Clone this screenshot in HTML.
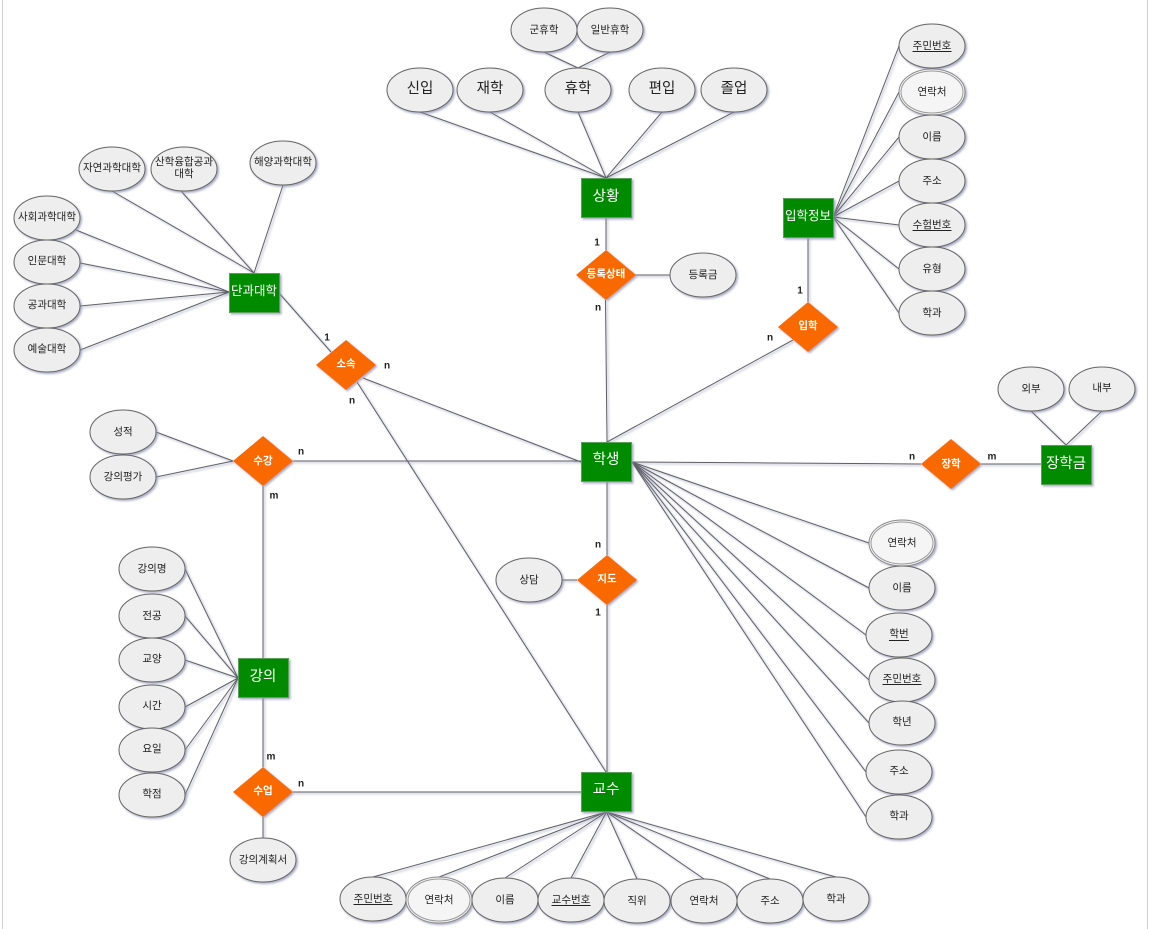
<!DOCTYPE html>
<html lang="ko">
<head>
<meta charset="utf-8">
<style>
html,body{margin:0;padding:0;background:#fff;width:1149px;height:929px;overflow:hidden}
svg{display:block}
text{font-family:"Liberation Sans","Noto Sans CJK KR",sans-serif;text-anchor:middle;dominant-baseline:central;fill:#222}
.l line{stroke:#5f5f66;stroke-width:1}
.e ellipse{fill:#eeeeee;stroke:#666;stroke-width:1}
.r rect{fill:#008a00;stroke:#5c9f5c;stroke-width:1}
.d polygon{fill:#fa6800;stroke:none}
.a{font-size:10.5px}
.b{font-size:14.5px}
.w{fill:#fff;font-size:14.5px}
.m{fill:#fff;font-size:12.5px}
.s{fill:#fff;font-size:10.5px;font-weight:bold}
.c{font-size:10px;font-weight:bold}
</style>
</head>
<body>
<svg width="1149" height="929" viewBox="0 0 1149 929" xmlns="http://www.w3.org/2000/svg">
<defs>
<filter id="sh" x="-5%" y="-5%" width="110%" height="110%">
<feDropShadow dx="1.5" dy="1.5" stdDeviation="1" flood-color="#8f8fb0" flood-opacity="0.75"/>
</filter>
</defs>
<rect x="2" y="0" width="1" height="929" fill="#cfcfcf"/>
<rect x="1147" y="0" width="1" height="929" fill="#cfcfcf"/>
<g class="l" filter="url(#sh)">
<line x1="279" y1="293" x2="331" y2="352"/>
<line x1="363" y1="378" x2="581" y2="462"/>
<line x1="357" y1="382" x2="606" y2="772"/>
<line x1="254" y1="273" x2="112" y2="191"/>
<line x1="254" y1="273" x2="181" y2="191"/>
<line x1="254" y1="273" x2="283" y2="185"/>
<line x1="229" y1="292" x2="76" y2="230"/>
<line x1="229" y1="292" x2="80" y2="263"/>
<line x1="229" y1="292" x2="80" y2="306"/>
<line x1="229" y1="292" x2="80" y2="350"/>
<line x1="606" y1="178" x2="420" y2="112"/>
<line x1="606" y1="178" x2="490" y2="112"/>
<line x1="606" y1="178" x2="578" y2="112"/>
<line x1="606" y1="178" x2="662" y2="112"/>
<line x1="606" y1="178" x2="734" y2="112"/>
<line x1="544" y1="52" x2="578" y2="68"/>
<line x1="610" y1="52" x2="578" y2="68"/>
<line x1="606" y1="217" x2="606" y2="250"/>
<line x1="605.5" y1="300" x2="607" y2="442"/>
<line x1="635" y1="275" x2="670" y2="275"/>
<line x1="833" y1="217" x2="899" y2="46"/>
<line x1="833" y1="217" x2="899" y2="92"/>
<line x1="833" y1="217" x2="899" y2="137"/>
<line x1="833" y1="217" x2="899" y2="181"/>
<line x1="833" y1="217" x2="899" y2="225"/>
<line x1="833" y1="217" x2="899" y2="269"/>
<line x1="833" y1="217" x2="899" y2="313"/>
<line x1="808" y1="237" x2="808" y2="302"/>
<line x1="793" y1="340" x2="607" y2="442"/>
<line x1="293" y1="461" x2="581" y2="461"/>
<line x1="263" y1="486" x2="263" y2="658"/>
<line x1="156" y1="432" x2="233" y2="461"/>
<line x1="156" y1="477" x2="233" y2="461"/>
<line x1="238" y1="678" x2="185" y2="569"/>
<line x1="238" y1="678" x2="185" y2="616"/>
<line x1="238" y1="678" x2="185" y2="660"/>
<line x1="238" y1="678" x2="185" y2="707"/>
<line x1="238" y1="678" x2="185" y2="750"/>
<line x1="238" y1="678" x2="185" y2="795"/>
<line x1="263" y1="697" x2="263" y2="767"/>
<line x1="293" y1="792" x2="581" y2="792"/>
<line x1="263" y1="817" x2="263" y2="838"/>
<line x1="607" y1="481" x2="607" y2="555"/>
<line x1="607" y1="605" x2="607" y2="772"/>
<line x1="562" y1="580" x2="577" y2="580"/>
<line x1="632" y1="462" x2="921" y2="464"/>
<line x1="632" y1="462" x2="869" y2="543"/>
<line x1="632" y1="462" x2="869" y2="588"/>
<line x1="632" y1="462" x2="866" y2="635"/>
<line x1="632" y1="462" x2="869" y2="680"/>
<line x1="632" y1="462" x2="869" y2="723"/>
<line x1="632" y1="462" x2="866" y2="772"/>
<line x1="632" y1="462" x2="866" y2="817"/>
<line x1="981" y1="464" x2="1041" y2="464"/>
<line x1="1031" y1="411" x2="1066" y2="445"/>
<line x1="1102" y1="411" x2="1066" y2="445"/>
<line x1="606.5" y1="812" x2="373" y2="877"/>
<line x1="606.5" y1="812" x2="439" y2="877"/>
<line x1="606.5" y1="812" x2="505" y2="878"/>
<line x1="606.5" y1="812" x2="571" y2="878"/>
<line x1="606.5" y1="812" x2="637" y2="879"/>
<line x1="606.5" y1="812" x2="704" y2="879"/>
<line x1="606.5" y1="812" x2="770" y2="879"/>
<line x1="606.5" y1="812" x2="836" y2="877"/>
</g>
<g class="e" filter="url(#sh)">
<ellipse cx="112" cy="169" rx="33" ry="22"/>
<ellipse cx="184" cy="169" rx="33" ry="22"/>
<ellipse cx="283" cy="163" rx="33" ry="22"/>
<ellipse cx="47" cy="218" rx="33" ry="22"/>
<ellipse cx="47" cy="262" rx="33" ry="22"/>
<ellipse cx="47" cy="306" rx="33" ry="22"/>
<ellipse cx="47" cy="350" rx="33" ry="22"/>
<ellipse cx="544" cy="30" rx="33" ry="22"/>
<ellipse cx="610" cy="30" rx="33" ry="22"/>
<ellipse cx="420" cy="90" rx="33" ry="22"/>
<ellipse cx="490" cy="90" rx="33" ry="22"/>
<ellipse cx="578" cy="90" rx="33" ry="22"/>
<ellipse cx="662" cy="90" rx="33" ry="22"/>
<ellipse cx="734" cy="90" rx="33" ry="22"/>
<ellipse cx="703" cy="275" rx="33" ry="22"/>
<ellipse cx="932" cy="46" rx="33" ry="22"/>
<ellipse cx="932" cy="92" rx="33" ry="23" style="fill:#f5f5f5;stroke:#888"/>
<ellipse cx="932" cy="137" rx="33" ry="22"/>
<ellipse cx="932" cy="181" rx="33" ry="22"/>
<ellipse cx="932" cy="225" rx="33" ry="22"/>
<ellipse cx="932" cy="269" rx="33" ry="22"/>
<ellipse cx="932" cy="313" rx="33" ry="22"/>
<ellipse cx="123" cy="432" rx="33" ry="22"/>
<ellipse cx="123" cy="477" rx="33" ry="22"/>
<ellipse cx="152" cy="569" rx="33" ry="22"/>
<ellipse cx="152" cy="616" rx="33" ry="22"/>
<ellipse cx="152" cy="660" rx="33" ry="22"/>
<ellipse cx="152" cy="707" rx="33" ry="22"/>
<ellipse cx="152" cy="750" rx="33" ry="22"/>
<ellipse cx="152" cy="795" rx="33" ry="22"/>
<ellipse cx="263" cy="860" rx="33" ry="22"/>
<ellipse cx="529" cy="580" rx="33" ry="22"/>
<ellipse cx="902" cy="543" rx="33" ry="23" style="fill:#f5f5f5;stroke:#888"/>
<ellipse cx="902" cy="588" rx="33" ry="22"/>
<ellipse cx="899" cy="635" rx="33" ry="22"/>
<ellipse cx="902" cy="680" rx="33" ry="22"/>
<ellipse cx="902" cy="723" rx="33" ry="22"/>
<ellipse cx="899" cy="772" rx="33" ry="22"/>
<ellipse cx="899" cy="817" rx="33" ry="22"/>
<ellipse cx="1031" cy="389" rx="33" ry="22"/>
<ellipse cx="1102" cy="389" rx="33" ry="22"/>
<ellipse cx="373" cy="899" rx="33" ry="22"/>
<ellipse cx="439" cy="900" rx="33" ry="23" style="fill:#f5f5f5;stroke:#888"/>
<ellipse cx="505" cy="900" rx="33" ry="22"/>
<ellipse cx="571" cy="900" rx="33" ry="22"/>
<ellipse cx="637" cy="901" rx="33" ry="22"/>
<ellipse cx="704" cy="901" rx="33" ry="22"/>
<ellipse cx="770" cy="901" rx="33" ry="22"/>
<ellipse cx="836" cy="899" rx="33" ry="22"/>
</g>
<g fill="none" stroke="#999" stroke-width="1">
<ellipse cx="932" cy="92" rx="31" ry="21"/>
<ellipse cx="902" cy="543" rx="31" ry="21"/>
<ellipse cx="439" cy="900" rx="31" ry="21"/>
</g>
<g class="r" filter="url(#sh)">
<rect x="229.5" y="273.5" width="50" height="39"/>
<rect x="581.5" y="178.5" width="50" height="39"/>
<rect x="783.5" y="198.5" width="50" height="39"/>
<rect x="581.5" y="442.5" width="50" height="39"/>
<rect x="238.5" y="658.5" width="50" height="39"/>
<rect x="581.5" y="772.5" width="50" height="39"/>
<rect x="1041.5" y="445.5" width="50" height="39"/>
</g>
<g class="d" filter="url(#sh)">
<polygon points="346,340 376,365 346,390 316,365"/>
<polygon points="606,250 636,275 606,300 576,275"/>
<polygon points="808,302 838,327 808,352 778,327"/>
<polygon points="263,436 293,461 263,486 233,461"/>
<polygon points="263,767 293,792 263,817 233,792"/>
<polygon points="607,555 637,580 607,605 577,580"/>
<polygon points="951,439 981,464 951,489 921,464"/>
</g>
<g class="a">
<text x="112" y="168">자연과학대학</text>
<text x="184" y="162">산학융합공과</text>
<text x="184" y="174">대학</text>
<text x="283" y="162">해양과학대학</text>
<text x="47" y="217">사회과학대학</text>
<text x="47" y="261">인문대학</text>
<text x="47" y="305">공과대학</text>
<text x="47" y="349">예술대학</text>
<text x="544" y="30">군휴학</text>
<text x="610" y="30">일반휴학</text>
<text x="703" y="275">등록금</text>
<text x="932" y="46">주민번호</text>
<text x="932" y="92">연락처</text>
<text x="932" y="137">이름</text>
<text x="932" y="181">주소</text>
<text x="932" y="225">수험번호</text>
<text x="932" y="269">유형</text>
<text x="932" y="313">학과</text>
<text x="123" y="432">성적</text>
<text x="123" y="477">강의평가</text>
<text x="152" y="569">강의명</text>
<text x="152" y="616">전공</text>
<text x="152" y="659">교양</text>
<text x="152" y="706">시간</text>
<text x="152" y="749">요일</text>
<text x="152" y="794">학점</text>
<text x="263" y="860">강의계획서</text>
<text x="529" y="580">상담</text>
<text x="902" y="543">연락처</text>
<text x="902" y="588">이름</text>
<text x="899" y="634">학번</text>
<text x="902" y="679">주민번호</text>
<text x="902" y="722">학년</text>
<text x="899" y="771">주소</text>
<text x="899" y="816">학과</text>
<text x="1031" y="389">외부</text>
<text x="1102" y="388">내부</text>
<text x="373" y="899">주민번호</text>
<text x="439" y="900">연락처</text>
<text x="505" y="900">이름</text>
<text x="571" y="900">교수번호</text>
<text x="637" y="901">직위</text>
<text x="704" y="901">연락처</text>
<text x="770" y="901">주소</text>
<text x="836" y="899">학과</text>
</g>
<g fill="#222">
<rect x="912.5" y="51" width="39" height="1"/>
<rect x="912.5" y="230" width="39" height="1"/>
<rect x="889" y="640" width="20" height="1"/>
<rect x="882.5" y="684" width="39" height="1"/>
<rect x="353.5" y="904" width="39" height="1"/>
<rect x="551.5" y="905" width="39" height="1"/>
</g>
<g class="b">
<text x="420" y="89">신입</text>
<text x="490" y="89">재학</text>
<text x="578" y="89">휴학</text>
<text x="662" y="89">편입</text>
<text x="734" y="89">졸업</text>
</g>
<text class="w" x="606" y="197">상황</text>
<text class="w" x="606" y="460">학생</text>
<text class="w" x="263" y="677">강의</text>
<text class="w" x="606" y="790">교수</text>
<text class="w" x="1066" y="464">장학금</text>
<text class="m" x="254" y="291">단과대학</text>
<text class="m" x="808" y="216">입학정보</text>
<text class="s" x="346" y="364">소속</text>
<text class="s" x="606" y="274">등록상태</text>
<text class="s" x="808" y="326">입학</text>
<text class="s" x="263" y="461">수강</text>
<text class="s" x="263" y="791">수업</text>
<text class="s" x="607" y="579">지도</text>
<text class="s" x="951" y="464">장학</text>
<g class="c">
<text x="327" y="338">1</text>
<text x="387" y="366">n</text>
<text x="352" y="401">n</text>
<text x="597" y="243">1</text>
<text x="598" y="308">n</text>
<text x="800" y="291">1</text>
<text x="770" y="338">n</text>
<text x="301" y="452">n</text>
<text x="274" y="496">m</text>
<text x="271" y="757">m</text>
<text x="301" y="784">n</text>
<text x="598" y="545">n</text>
<text x="598" y="613">1</text>
<text x="912" y="457">n</text>
<text x="992" y="457">m</text>
</g>
</svg>
</body>
</html>
